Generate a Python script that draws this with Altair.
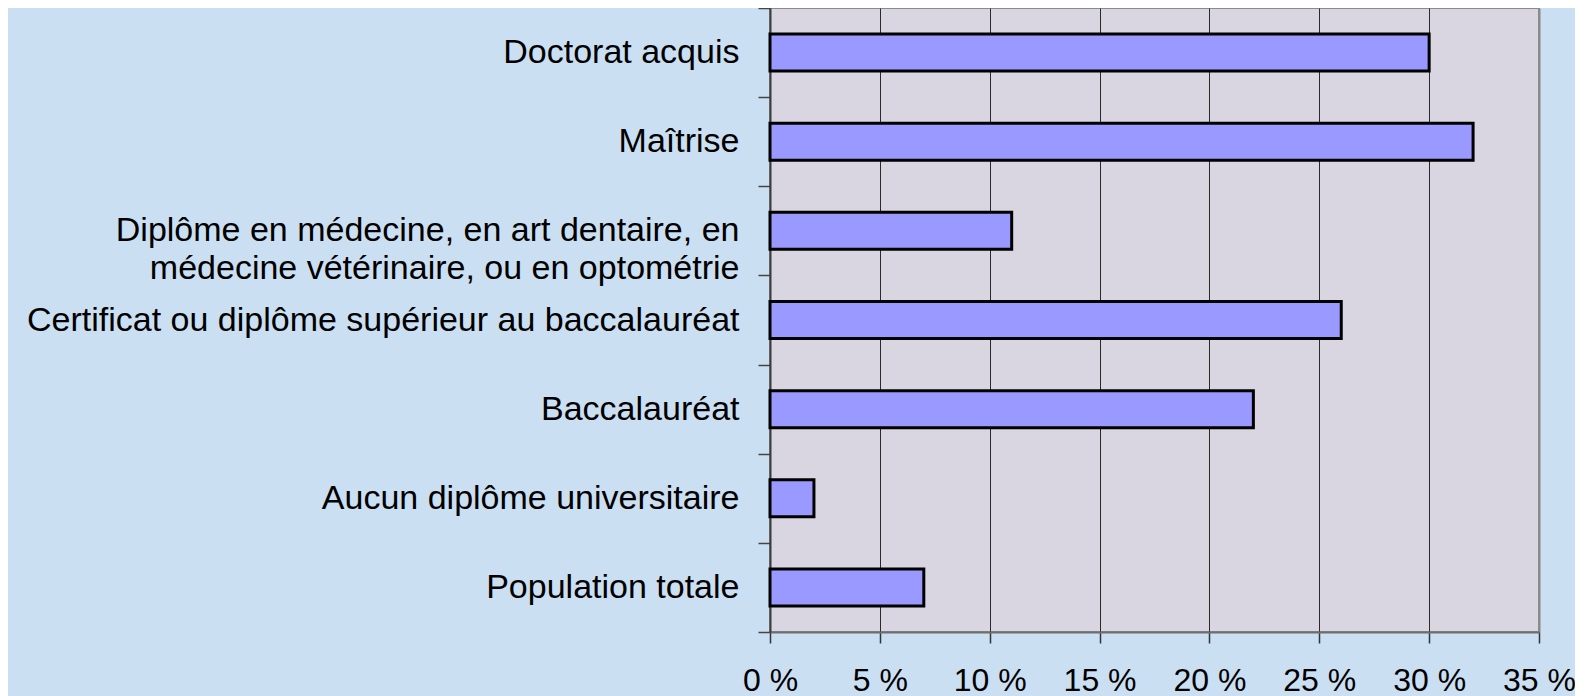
import altair as alt
import pandas as pd

categories = [
    "Doctorat acquis",
    "Maîtrise",
    "Diplôme en médecine, en art dentaire, en\nmédecine vétérinaire, ou en optométrie",
    "Certificat ou diplôme supérieur au baccalauréat",
    "Baccalauréat",
    "Aucun diplôme universitaire",
    "Population totale",
]
values = [30, 32, 11, 26, 22, 2, 7]
x_ticks = [0, 5, 10, 15, 20, 25, 30, 35]

df = pd.DataFrame({"categorie": categories, "pct": values})

FONT = "Liberation Sans"
W, H = 769, 624
PAD = {"left": 762, "top": 0, "right": 36, "bottom": 64}

chart = (
    alt.Chart(df)
    .mark_bar(fill="#9999ff", stroke="#000000", strokeWidth=3, size=37)
    .encode(
        x=alt.X(
            "pct:Q",
            scale=alt.Scale(domain=[0, 35], nice=False, zero=True),
            axis=alt.Axis(
                title=None,
                values=x_ticks,
                labelExpr="datum.value + ' %'",
                labelFont=FONT,
                labelFontSize=32,
                labelColor="#000000",
                labelPadding=22,
                labelFlush=False,
                labelOverlap=False,
                tickSize=11,
                tickColor="#333333",
                tickWidth=1.5,
                domainColor="#6e6e6e",
                domainWidth=2,
                grid=True,
                gridColor={"condition": {"test": "datum.value === 35", "value": "#8a8a8a"}, "value": "#2a2a2a"},
                gridWidth={"condition": {"test": "datum.value === 35", "value": 2}, "value": 1},
                gridOpacity=1,
            ),
        ),
        y=alt.Y(
            "categorie:N",
            sort=categories,
            scale=alt.Scale(paddingInner=0, paddingOuter=0),
            axis=alt.Axis(
                title=None,
                labelExpr="split(datum.label, '\\n')",
                labelFont=FONT,
                labelFontSize=34,
                labelColor="#000000",
                labelLimit=900,
                labelLineHeight=38,
                labelPadding=19,
                tickBand="extent",
                tickSize=12,
                tickColor="#444444",
                tickWidth=1.5,
                domainColor="#3c3c3c",
                domainWidth=2,
                grid=False,
            ),
        ),
    )
    .properties(
        width=W,
        height=H,
        background="#cbdff2",
        padding=PAD,
        autosize=alt.AutoSizeParams(type="none"),
    )
    .configure_view(stroke="#8a8a8a", strokeWidth=2, fill="#d9d5e1")
)

chart.save("out.html", embed_options={"renderer": "svg", "actions": False})
